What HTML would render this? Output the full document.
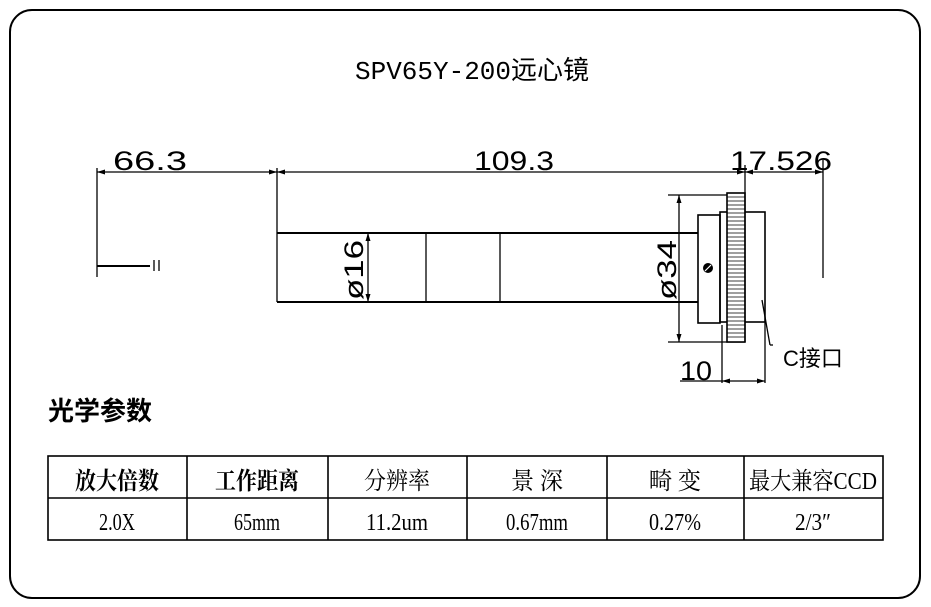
<!DOCTYPE html>
<html><head><meta charset="utf-8"><style>
html,body{margin:0;padding:0;background:#fff}
svg{display:block}
</style></head><body>
<svg width="931" height="607" viewBox="0 0 931 607" xmlns="http://www.w3.org/2000/svg">
<rect x="10" y="10" width="910" height="588" rx="22" fill="none" stroke="#000" stroke-width="2"/>
<text x="472" y="79" font-size="26" text-anchor="middle" style="font-family:'Liberation Mono','Noto Sans CJK SC',monospace">SPV65Y-200远心镜</text>
<g stroke="#000" fill="none" stroke-width="1.3">
<line x1="97" y1="172" x2="823" y2="172"/>
<line x1="97" y1="168" x2="97" y2="277"/>
<line x1="97" y1="266" x2="150" y2="266" stroke-width="2"/>
<line x1="154" y1="260" x2="154" y2="271"/><line x1="159" y1="260" x2="159" y2="271"/>
<line x1="277" y1="168" x2="277" y2="302"/>
<line x1="277" y1="233" x2="698" y2="233" stroke-width="2"/>
<line x1="277" y1="302" x2="698" y2="302" stroke-width="2"/>
<line x1="368" y1="233" x2="368" y2="302"/>
<line x1="426" y1="233" x2="426" y2="302"/>
<line x1="500" y1="233" x2="500" y2="302"/>
<line x1="668" y1="195" x2="745" y2="195"/>
<line x1="668" y1="342" x2="745" y2="342"/>
<line x1="679" y1="195" x2="679" y2="342"/>
<rect x="698" y="215" width="22" height="108" stroke-width="1.6"/>
<rect x="720" y="212" width="45" height="110" stroke-width="1.6"/>
<rect x="727" y="193" width="18" height="149" fill="#fff" stroke-width="1.6"/>
<line x1="745" y1="165" x2="745" y2="342"/>
<line x1="823" y1="160" x2="823" y2="278"/>
<line x1="762" y1="300" x2="770" y2="345"/>
<line x1="770" y1="345" x2="773" y2="345"/>
<line x1="722" y1="325" x2="722" y2="383"/>
<line x1="765" y1="322" x2="765" y2="383"/>
<line x1="680" y1="381" x2="765" y2="381"/>
</g>
<g fill="#000">
<path d="M97 172l8-2.5v5z M277 172l-8-2.5v5z M277 172l8-2.5v5z M745 172l-8-2.5v5z M745 172l8-2.5v5z M823 172l-8-2.5v5z M679 195l-2.5 8h5z M679 342l-2.5-8h5z M368 233l-2.5 8h5z M368 302l-2.5-8h5z M722 381l8-2.5v5z M765 381l-8-2.5v5z"/>
</g>
<g stroke="#000" stroke-width="0.8">
<path d="M727 197H745M727 201H745M727 205H745M727 209H745M727 213H745M727 217H745M727 221H745M727 225H745M727 229H745M727 233H745M727 237H745M727 241H745M727 245H745M727 249H745M727 253H745M727 257H745M727 261H745M727 265H745M727 269H745M727 273H745M727 277H745M727 281H745M727 285H745M727 289H745M727 293H745M727 297H745M727 301H745M727 305H745M727 309H745M727 313H745M727 317H745M727 321H745M727 325H745M727 329H745M727 333H745M727 337H745"/>
</g>
<circle cx="708" cy="268" r="5" fill="#000"/>
<line x1="705" y1="271" x2="711" y2="265" stroke="#fff" stroke-width="1.2"/>
<g font-size="27" style="font-family:'Liberation Sans',sans-serif" font-weight="normal">
<text x="113" y="170" textLength="74" lengthAdjust="spacingAndGlyphs">66.3</text>
<text x="474" y="170" textLength="80" lengthAdjust="spacingAndGlyphs">109.3</text>
<text x="730" y="170" textLength="102" lengthAdjust="spacingAndGlyphs">17.526</text>
<text x="680" y="380" textLength="32" lengthAdjust="spacingAndGlyphs">10</text>
<text transform="translate(363,300) rotate(-90)" textLength="60" lengthAdjust="spacingAndGlyphs">ø16</text>
<text transform="translate(676,300) rotate(-90)" textLength="60" lengthAdjust="spacingAndGlyphs">ø34</text>
</g>
<text x="783" y="366" font-size="22" style="font-family:'Liberation Sans','Noto Sans CJK SC',sans-serif">C接口</text>
<text x="48" y="420" font-size="26" font-weight="bold" style="font-family:'Liberation Sans','Noto Sans CJK SC',sans-serif">光学参数</text>
<g stroke="#000" stroke-width="1.6" fill="none">
<rect x="48" y="456" width="835" height="84"/>
<line x1="48" y1="498" x2="883" y2="498"/>
<line x1="187" y1="456" x2="187" y2="540"/>
<line x1="328" y1="456" x2="328" y2="540"/>
<line x1="467" y1="456" x2="467" y2="540"/>
<line x1="607" y1="456" x2="607" y2="540"/>
<line x1="744" y1="456" x2="744" y2="540"/>
</g>
<g font-size="24" text-anchor="middle" style="font-family:'Liberation Serif','Noto Serif CJK SC',serif">
<text x="117" y="489" font-weight="bold" textLength="84" lengthAdjust="spacingAndGlyphs">放大倍数</text>
<text x="257" y="489" font-weight="bold" textLength="84" lengthAdjust="spacingAndGlyphs">工作距离</text>
<text x="397" y="489" textLength="66" lengthAdjust="spacingAndGlyphs">分辨率</text>
<text x="537" y="489" textLength="52" lengthAdjust="spacingAndGlyphs">景 深</text>
<text x="675" y="489" textLength="52" lengthAdjust="spacingAndGlyphs">畸 变</text>
<text x="813" y="489" textLength="128" lengthAdjust="spacingAndGlyphs">最大兼容CCD</text>
<text x="117" y="530" textLength="36" lengthAdjust="spacingAndGlyphs">2.0X</text>
<text x="257" y="530" textLength="46" lengthAdjust="spacingAndGlyphs">65mm</text>
<text x="397" y="530" textLength="62" lengthAdjust="spacingAndGlyphs">11.2um</text>
<text x="537" y="530" textLength="62" lengthAdjust="spacingAndGlyphs">0.67mm</text>
<text x="675" y="530" textLength="52" lengthAdjust="spacingAndGlyphs">0.27%</text>
<text x="813" y="530" textLength="36" lengthAdjust="spacingAndGlyphs">2/3″</text>
</g>
</svg>
</body></html>
